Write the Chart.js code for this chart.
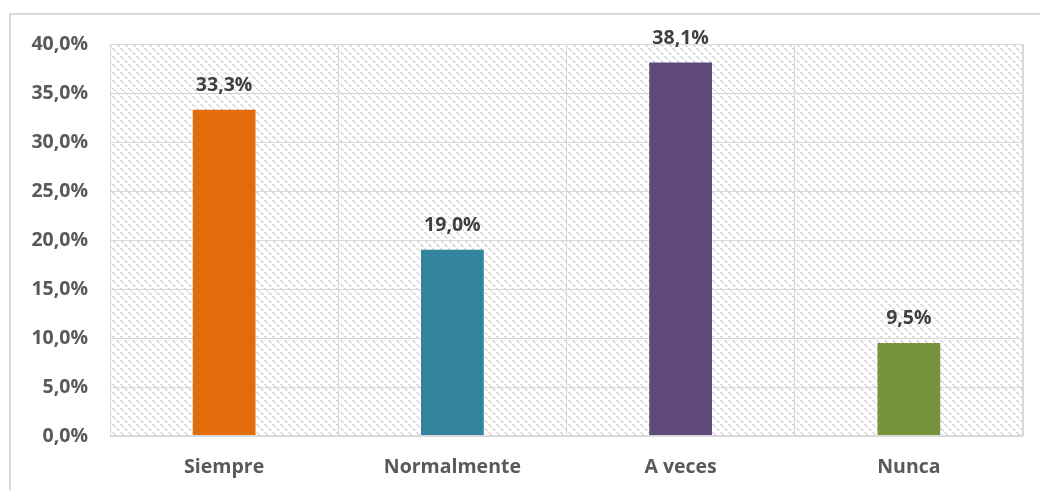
<!DOCTYPE html>
<html>
<head>
<meta charset="utf-8">
<script src="https://cdn.jsdelivr.net/npm/chart.js@4"></script>
<style>
  html, body { margin: 0; padding: 0; background: #fff; }
  #wrap { width: 1040px; height: 490px; position: relative; }
</style>
</head>
<body>
<div id="wrap"><canvas id="grafico"></canvas></div>
<script>
const categorias = ['Siempre', 'Normalmente', 'A veces', 'Nunca'];
const porcentajes = [33.3, 19.0, 38.1, 9.5];
const colores = ['#E36C0A', '#31849B', '#5F497A', '#77933C'];
const ejeMax = 40;
const ejePaso = 5;

const fmt = v => v.toFixed(1).replace('.', ',') + '%';
const fuente = { family: '"Open Sans"', size: 19.5, weight: 'bold' };

// trama diagonal del fondo del area de trazado
function crearTrama() {
  const c = document.createElement('canvas');
  c.width = 8; c.height = 8;
  const g = c.getContext('2d');
  g.fillStyle = '#ffffff';
  g.fillRect(0, 0, 8, 8);
  g.fillStyle = '#d6d6d6';
  for (let i = 0; i < 8; i++) {
    if (i == 3 || i == 7) continue;
    g.fillRect(i, i, 1, 1);
    g.fillRect((i + 1) % 8, i, 1, 1);
  }
  return g.createPattern(c, 'repeat');
}

const fondo = {
  id: 'fondo',
  beforeDraw(chart) {
    const { ctx, chartArea: { left, top, right, bottom } } = chart;
    ctx.save();
    // marco exterior
    ctx.strokeStyle = '#d9d9d9';
    ctx.lineWidth = 2;
    ctx.strokeRect(10, 14, 1100, 600);
    ctx.fillStyle = crearTrama();
    ctx.fillRect(left, top, right - left, bottom - top);
    ctx.restore();
  },
  afterDatasetsDraw(chart) {
    const { ctx, chartArea: { left, top, right, bottom } } = chart;
    ctx.save();
    ctx.strokeStyle = '#d9d9d9';
    ctx.lineWidth = 1;
    ctx.strokeRect(left + 0.5, top + 0.5, right - left - 1, bottom - top - 1);
    // etiquetas de valor
    const meta = chart.getDatasetMeta(0);
    ctx.font = 'bold 19.5px "Open Sans"';
    ctx.fillStyle = '#404040';
    ctx.textAlign = 'center';
    ctx.textBaseline = 'alphabetic';
    meta.data.forEach((bar, i) => {
      ctx.fillText(fmt(porcentajes[i]), bar.x, bar.y - 19);
    });
    ctx.restore();
  }
};

new Chart(document.getElementById('grafico'), {
  type: 'bar',
  data: {
    labels: categorias,
    datasets: [{
      data: porcentajes,
      backgroundColor: colores,
      barPercentage: 0.275,
      categoryPercentage: 1
    }]
  },
  options: {
    responsive: true,
    maintainAspectRatio: false,
    animation: false,
    layout: { padding: { left: 0, top: 44, right: 17, bottom: 0 } },
    plugins: { legend: { display: false }, tooltip: { enabled: false } },
    scales: {
      x: {
        grid: { color: '#d9d9d9', drawTicks: false, offset: true },
        border: { display: false },
        ticks: { color: '#595959', font: fuente, padding: 20 },
        afterFit(s) { s.height = 54; }
      },
      y: {
        min: 0,
        max: ejeMax,
        grid: { color: '#d9d9d9', drawTicks: false },
        border: { display: false },
        ticks: {
          stepSize: ejePaso,
          color: '#595959',
          font: fuente,
          padding: 22,
          callback: v => fmt(v)
        },
        afterFit(s) { s.width = 110; }
      }
    }
  },
  plugins: [fondo]
});
</script>
</body>
</html>
